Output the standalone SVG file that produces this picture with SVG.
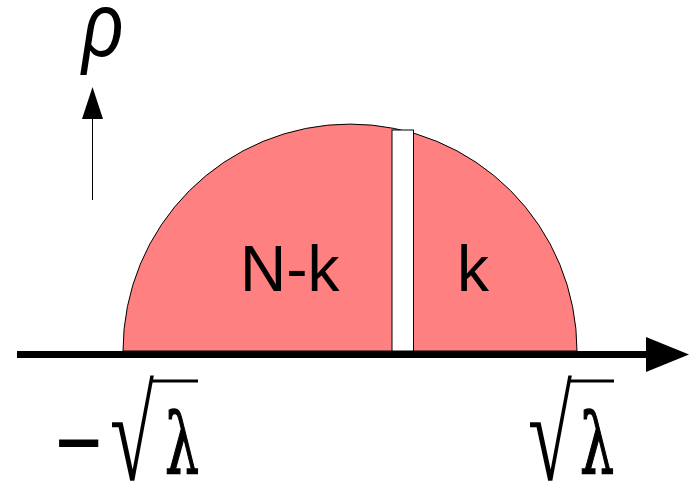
<svg xmlns="http://www.w3.org/2000/svg" width="689" height="484" viewBox="0 0 689 484">
<style>
.lbl{font-family:"Liberation Sans",Arial,sans-serif;font-size:64px;fill:#000}
.math{font-family:"Liberation Serif","Times New Roman",serif;fill:#000}
.lam{font-family:"DejaVu Serif",serif;font-size:84px;fill:#000;stroke:#000;stroke-width:1.5}
</style>
<rect width="689" height="484" fill="#fff"/>
<g id="semicircle">
<path d="M123,351 A227,227 0 0 1 577,351 Z" fill="#ff8080" stroke="#000" stroke-width="1"/>
<rect x="392" y="130" width="21.5" height="221" fill="#fff" stroke="#000" stroke-width="1"/>
<text class="lbl" x="240" y="290.5">N-k</text>
<text class="lbl" x="457" y="290.5">k</text>
</g>
<g id="connectors">
<line x1="17" y1="354.5" x2="648" y2="354.5" stroke="#000" stroke-width="7"/>
<polygon points="646,337 689,354.5 646,372" fill="#000"/>
<line x1="92.5" y1="118" x2="92.5" y2="200" stroke="#000" stroke-width="1"/>
<polygon points="92.5,87 103,119 82,119" fill="#000"/>
</g>
<g id="rho">
<text transform="translate(82,56) scale(0.8,1)" font-family="Liberation Sans, sans-serif" font-style="italic" font-size="90">ρ</text>
</g>
<g id="neg-sqrt-lambda">
<text class="math" x="56" y="470" font-size="80" font-weight="bold" stroke="#000" stroke-width="2">−</text>
<text class="math" transform="translate(110,480) scale(0.8,1.32)" font-size="100">√</text>
<line x1="152" y1="381" x2="198" y2="381" stroke="#000" stroke-width="3"/>
<text class="lam" transform="translate(165,473) scale(0.64,1)">λ</text>
</g>
<g id="sqrt-lambda">
<text class="math" transform="translate(528,480) scale(0.8,1.32)" font-size="100">√</text>
<line x1="568" y1="381" x2="614" y2="381" stroke="#000" stroke-width="3"/>
<text class="lam" transform="translate(580,473) scale(0.64,1)">λ</text>
</g>
</svg>
